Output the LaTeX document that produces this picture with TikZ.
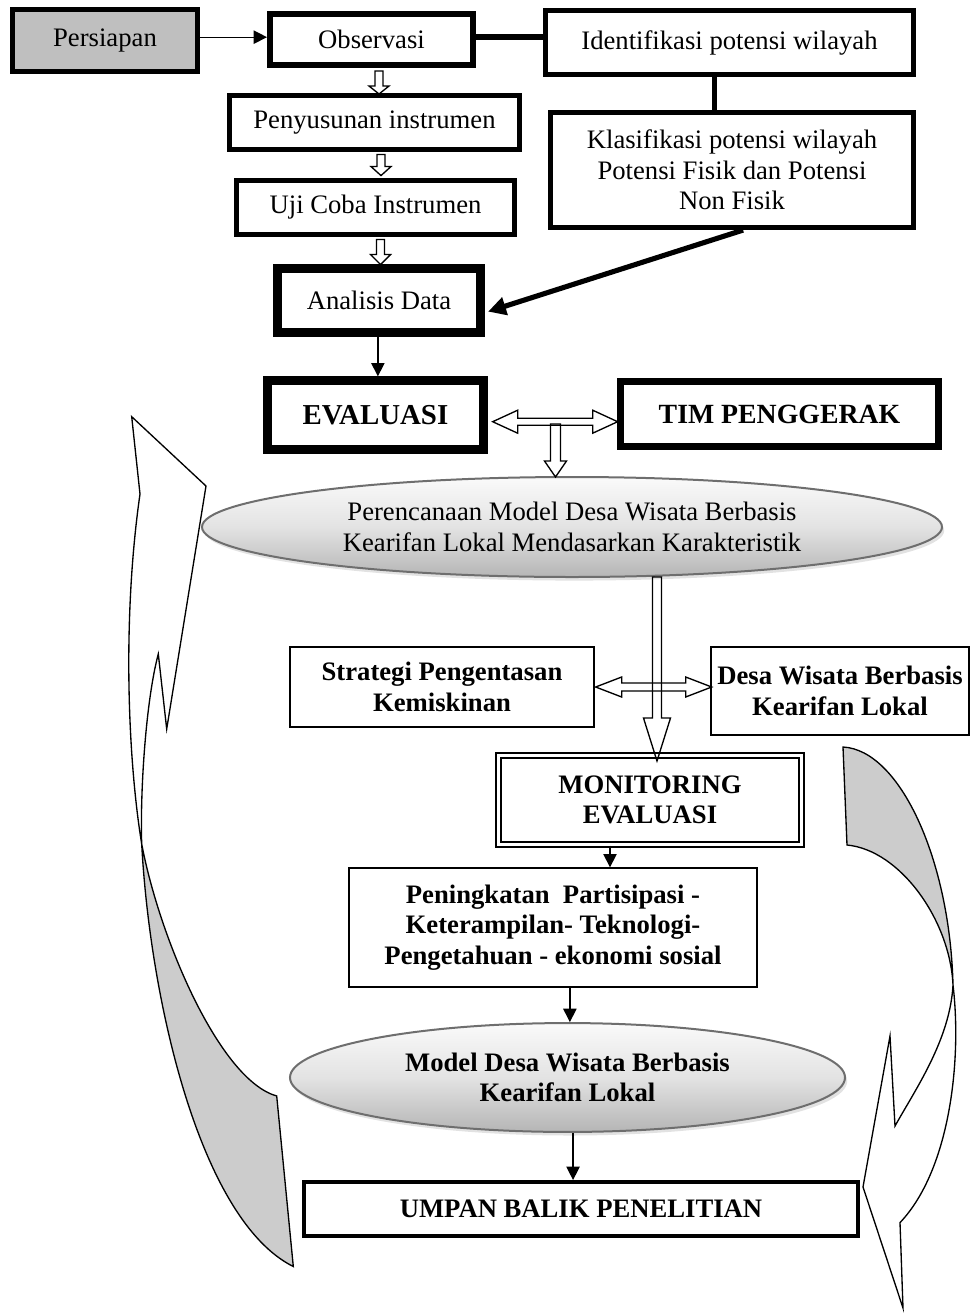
\documentclass[tikz,border=0pt]{standalone}
\usepackage{fontspec}
\setmainfont{Liberation Serif}
\usetikzlibrary{arrows.meta,calc,shapes.geometric,shadows}
\definecolor{boxgray}{HTML}{BFBFBF}
\definecolor{bandgray}{HTML}{CCCCCC}
\definecolor{rim}{HTML}{6E6E6E}

\tikzset{
  pics/dnarrow/.style args={#1/#2/#3/#4}{code={%
    \draw[line width=0.6pt] (-#2,0) -- (-#2,#1-#4) -- (-#3,#1-#4) -- (0,#1)
      -- (#3,#1-#4) -- (#2,#1-#4) -- (#2,0) -- cycle;}},
  pics/lrarrow/.style args={#1/#2/#3/#4}{code={%
    \draw[line width=0.6pt] (0,0) -- (#4,-#3) -- (#4,-#2) -- (#1-#4,-#2)
      -- (#1-#4,-#3) -- (#1,0) -- (#1-#4,#3) -- (#1-#4,#2) -- (#4,#2)
      -- (#4,#3) -- cycle;}}
}

\begin{document}
\begin{tikzpicture}[x=0.45pt,y=-0.45pt,
    font=\fontsize{12}{13.8}\selectfont,
    heavy/.style={draw,line width=2.3pt,inner sep=2pt,align=center},
    plain/.style={draw,line width=0.6pt,inner sep=2pt,align=center,
                  font=\fontsize{12}{13.8}\selectfont\bfseries},
    oval/.style={ellipse,draw=rim,line width=0.9pt,inner sep=0pt,align=center,
                 top color=gray!4,bottom color=gray!58,middle color=gray!22,
                 drop shadow={shadow xshift=1pt,shadow yshift=-1.6pt,fill=gray!45}},
    flow/.style={line width=0.6pt,-{Triangle[length=6pt,width=6pt]}}]
  \useasboundingbox (0,0) rectangle (970,1313);

  % feedback bands
  \filldraw[fill=white,line width=0.6pt] (131.7,416.7) -- (206,486) -- (166.7,729)
    -- (158.3,654) .. controls (146,700) and (140,790) .. (141.7,844)
    .. controls (128,760) and (122,620) .. (140,494) -- cycle;
  \filldraw[fill=bandgray,line width=0.6pt] (141.7,844)
    .. controls (160,940) and (220,1080) .. (276.7,1096) -- (293.3,1266.5)
    .. controls (200,1220) and (150,1000) .. (141.7,844);
  \filldraw[fill=bandgray,line width=0.6pt] (843,747)
    .. controls (900,750) and (950,860) .. (953,985)
    .. controls (950,920) and (900,850) .. (847,845) -- cycle;
  \filldraw[fill=white,line width=0.6pt] (953,985)
    .. controls (962,1060) and (950,1170) .. (900,1222.6) -- (903,1308)
    -- (863,1187) -- (890,1036) -- (895,1126)
    .. controls (915,1090) and (950,1040) .. (953,985);

  \node[heavy,fill=boxgray,minimum width=83.25pt,minimum height=27.9pt] (pers) at (105,40.5) {Persiapan};
  \node[heavy,line width=2.7pt,minimum width=91.35pt,minimum height=22.95pt] (obs) at (371.5,39.5) {Observasi};
  \node[heavy,minimum width=165.6pt,minimum height=28.8pt] (iden) at (729.5,42.5) {Identifikasi potensi wilayah};
  \node[heavy,minimum width=130.5pt,minimum height=24.3pt] (peny) at (374.5,122.5) {Penyusunan instrumen};
  \node[heavy,minimum width=125.1pt,minimum height=24.3pt] (uji) at (375.5,207.5) {Uji Coba Instrumen};
  \node[heavy,minimum width=163.35pt,minimum height=51.75pt] (klas) at (732,170)
    {Klasifikasi potensi wilayah\\Potensi Fisik dan Potensi\\Non Fisik};
  \node[heavy,line width=3.4pt,minimum width=91.8pt,minimum height=29.25pt] (ana) at (379,300.5) {Analisis Data};
  \node[heavy,line width=3.3pt,minimum width=97.65pt,minimum height=31.5pt,
        font=\fontsize{13}{15}\selectfont\bfseries] (eva) at (375.5,415) {EVALUASI};
  \node[heavy,line width=3.1pt,minimum width=143.1pt,minimum height=29.25pt,
        font=\fontsize{12.5}{15}\selectfont\bfseries] (tim) at (779.5,414) {TIM PENGGERAK};
  \foreach \n in {ana,eva}
    \draw[line width=0.8pt] ($(\n.south west)+(7.5,-7.5)$) rectangle ($(\n.north east)+(-7.5,7.5)$);

  \node[oval,font=\fontsize{12}{13.8}\selectfont,minimum width=333pt,minimum height=45pt] (pere) at (572,527)
    {Perencanaan Model Desa Wisata Berbasis\\Kearifan Lokal Mendasarkan Karakteristik};
  \node[plain,minimum width=136.8pt,minimum height=36pt] (stra) at (442,687) {Strategi Pengentasan\\Kemiskinan};
  \node[plain,minimum width=116.1pt,minimum height=39.6pt] (desa) at (840,691) {Desa Wisata Berbasis\\Kearifan Lokal};
  \node[plain,double,line width=1pt,double distance=1.2pt,minimum width=136.35pt,minimum height=40pt] (moni)
    at (650,800) {MONITORING\\EVALUASI};
  \node[plain,minimum width=183.6pt,minimum height=53.55pt] (peni) at (553,927.5)
    {Peningkatan~ Partisipasi -\\Keterampilan- Teknologi-\\Pengetahuan - ekonomi sosial};
  \node[oval,font=\fontsize{12}{13.8}\selectfont\bfseries,minimum width=249.75pt,minimum height=49pt] (model)
    at (567.5,1077.5) {Model Desa Wisata Berbasis\\Kearifan Lokal};
  \node[plain,line width=1.8pt,minimum width=249.3pt,minimum height=24.3pt] (umpan) at (581,1209) {UMPAN BALIK PENELITIAN};

  % connectors
  \draw[flow] ([yshift=1.5pt]pers.east) -- ([yshift=1.5pt]pers.east -| obs.west);
  \draw[line width=2.5pt] ([yshift=1.2pt]obs.east) -- ([yshift=1.2pt]obs.east -| iden.west);
  \draw[line width=2.5pt] ([xshift=-6.75pt]iden.south) -- ([xshift=-6.75pt]iden.south |- klas.north);
  \draw[line width=2.3pt,-{Triangle[length=8pt,width=8pt]}] ([xshift=5pt]klas.south)
    -- ([xshift=1.5pt,yshift=-5pt]ana.east);
  \pic at ($(obs.south)+(7.5,3)$) {dnarrow=23/4/10/8};
  \pic at ($(peny.south)+(6.5,2.5)$) {dnarrow=21/4/10/9};
  \pic at ($(uji.south)+(5,2.5)$) {dnarrow=25/4/10/10};
  \draw[flow] ([xshift=-0.5pt]ana.south) -- ([xshift=-0.5pt]ana.south |- eva.north);
  \pic at ($(eva.east)+(5,6.7)$) {lrarrow=125/3.5/11.5/25};
  \pic at ($(pere.north)+(-16.5,-52)$) {dnarrow=53/5/11/16};
  \pic at ($(pere.south)+(85,-1)$) {dnarrow=184/4.5/13.5/43};
  \pic at ($(stra.east)+(1,0)$) {lrarrow=116/4/10/26};
  \draw[flow] ([xshift=-18pt]moni.south) -- ([xshift=-18pt]moni.south |- peni.north);
  \draw[flow] ([xshift=7.6pt]peni.south) -- ([xshift=7.6pt]peni.south |- model.north);
  \draw[flow] ([xshift=2.5pt]model.south) -- ([xshift=2.5pt]model.south |- umpan.north);
\end{tikzpicture}
\end{document}
